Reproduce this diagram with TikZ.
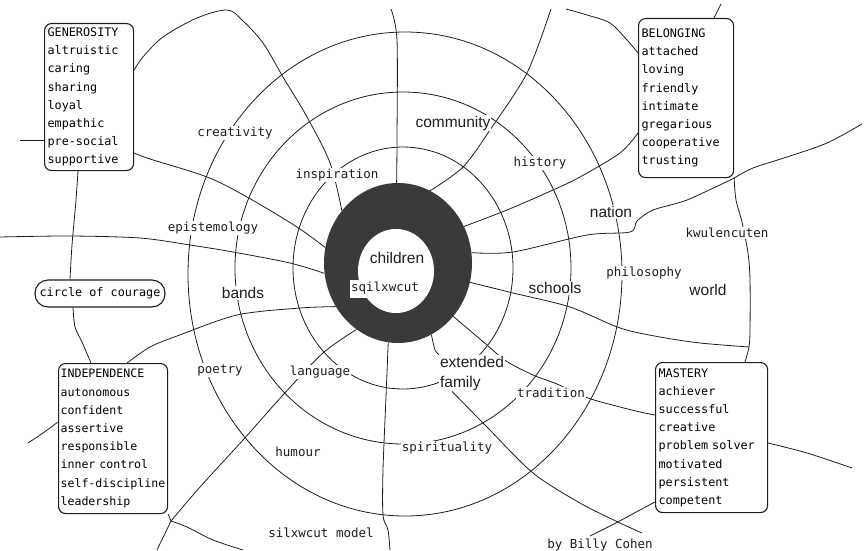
\documentclass[tikz,border=0pt]{standalone}
\usepackage{fontspec}
\setmainfont{Liberation Sans}
\newfontfamily\bitmapfont{DejaVu Sans Mono}
\usetikzlibrary{shapes.geometric}
\pgfdeclarelayer{bg}
\pgfsetlayers{bg,main}
\definecolor{ringc}{HTML}{3A3A3A}
\definecolor{inkc}{HTML}{1E1E1E}
\begin{document}
\begin{tikzpicture}[x=1pt,y=-1pt,
  con/.style={draw=inkc, line width=0.8pt},
  cbox/.style={draw=inkc, line width=1.1pt, rounded corners=7pt, anchor=north west,
    inner xsep=3pt, inner ysep=0pt, align=left,
    font=\bitmapfont\fontsize{11.8}{18.2}\selectfont},
  lab/.style={fill=white, inner sep=1pt, text=inkc, font=\bitmapfont\fontsize{12.5}{14}\selectfont},
  hlab/.style={fill=white, inner sep=1pt, text=inkc, font=\fontsize{15.5}{20}\selectfont}]
\useasboundingbox (0,0) rectangle (867,551);

% boxes
\node[cbox, text width=83pt, minimum height=147pt] (gen) at (44,23)
  {GENEROSITY\\altruistic\\caring\\sharing\\loyal\\empathic\\pre-social\\supportive};
\node[cbox, text width=89pt, minimum height=159pt] (bel) at (638,18)
  {BELONGING\\attached\\loving\\friendly\\intimate\\gregarious\\cooperative\\trusting};
\node[cbox, inner xsep=2pt, text width=105pt, minimum height=150pt,
  font=\bitmapfont\fontsize{11.6}{18.2}\selectfont] (ind) at (58,363)
  {INDEPENDENCE\\autonomous\\confident\\assertive\\responsible\\inner control\\self-discipline\\leadership};
\node[cbox, text width=106pt, minimum height=150pt] (mas) at (655,362)
  {MASTERY\\achiever\\successful\\creative\\problem solver\\motivated\\persistent\\competent};
\node[draw=inkc, line width=1.1pt, rounded corners=13pt, minimum width=130pt, minimum height=27pt,
  inner sep=0pt, font=\bitmapfont\fontsize{11.8}{14}\selectfont] (coc) at (100,293.5) {circle of courage};

% central ring
\node[ellipse, fill=ringc, minimum width=148pt, minimum height=160pt, inner sep=0pt] (ring) at (398,263) {};
\node[ellipse, fill=white, minimum width=76pt, minimum height=84pt, inner sep=0pt] (hole) at (396,271) {};
\node[hlab, fill=none] (child) at (397,258) {children};
\node[fill=white, text=inkc, font=\bitmapfont\fontsize{12.5}{14}\selectfont, minimum width=70pt,
  minimum height=18pt, inner sep=0pt] (sqil) at (385,288.5) {sqilxwcut};

% labels
\node[lab] (creat) at (235,133) {creativity};
\node[lab] (insp) at (337,175) {inspiration};
\node[lab] (epis) at (213,228) {epistemology};
\node[hlab] (comm) at (453,123) {community};
\node[lab] (hist) at (540,163) {history};
\node[hlab] (nat) at (611,212) {nation};
\node[lab] (kw) at (727,233) {kwulencuten};
\node[lab] (phil) at (644,273) {philosophy};
\node[hlab] (world) at (708,290) {world};
\node[hlab] (sch) at (555,288) {schools};
\node[hlab] (bands) at (243,293) {bands};
\node[lab] (poet) at (220,370) {poetry};
\node[lab] (lang) at (320,372) {language};
\node[hlab, align=left] (ext) at (472,373) {extended\\family};
\node[lab] (trad) at (551,393) {tradition};
\node[lab] (hum) at (298,452) {humour};
\node[lab] (spir) at (447,448) {spirituality};
\node[lab] (silx) at (321,533) {silxwcut model};
\node[lab] (by) at (600,545) {by Billy Cohen};

% free ends and junctions
\coordinate (e1) at (20,140);
\coordinate (e6) at (0,237);
\coordinate (e8) at (28,443);
\coordinate (j9) at (171,521);
\coordinate (e9a) at (243,550);
\coordinate (e9b) at (157,550);
\coordinate (e10) at (391,9);
\coordinate (e11) at (551,9);
\coordinate (e12) at (566,9);
\coordinate (e13) at (721,4);
\coordinate (e15) at (862,124);
\coordinate (j17) at (749,347);
\coordinate (e20) at (642,533);
\coordinate (e21) at (390,550);
\coordinate (e23) at (852,468);
\coordinate (e24) at (590,536);

\begin{pgfonlayer}{bg}
\draw[con] (403,268) ellipse [x radius=110pt, y radius=121pt];
\draw[con] (403,268) ellipse [x radius=168pt, y radius=176pt];
\draw[con] (405,274) ellipse [x radius=217pt, y radius=242pt];

\draw[con] (e1) -- (gen.west |- e1);
\draw[con] plot[smooth, tension=0.55] coordinates {(gen.east |- 0,70) (143,57) (163,37) (197,18) (227,10) (242,20) (263,43) (283,77) (307,117) (330,163) (ring.137)};
\draw[con] plot[smooth, tension=0.55] coordinates {(gen.east |- 0,153) (150,159) (207,177) (247,197) (297,227) (ring.168)};
\draw[con] plot[smooth] coordinates {(gen.south -| 78,0) (76,200) (72,245) (coc.north -| 70,0)};
\draw[con] plot[smooth] coordinates {(coc.south -| 73,0) (75,327) (82,342) (ind.north -| 91,0)};
\draw[con] plot[smooth] coordinates {(e6) (70,236) (140,238) (190,245) (233,252) (290,263) (ring.188)};
\draw[con] plot[smooth] coordinates {(ind.north -| 127,0) (150,347) (177,336) (237,315) (300,308) (ring.215)};
\draw[con] plot[smooth] coordinates {(ind.west |- 0,422) (43,433) (e8)};
\draw[con] (ind.south east) -- (j9);
\draw[con] plot[smooth] coordinates {(j9) (200,487) (243,440) (283,395) (323,353) (ring.238)};
\draw[con] plot[smooth] coordinates {(j9) (187,527) (213,540) (e9a)};
\draw[con] (j9) -- (e9b);
\draw[con] plot[smooth] coordinates {(ring.91) (397,140) (397,40) (e10)};
\draw[con] plot[smooth] coordinates {(ring.66) (463,167) (490,130) (527,73) (e11)};
\draw[con] plot[smooth] coordinates {(bel.west |- 0,53) (627,40) (610,23) (587,15) (e12)};
\draw[con] (bel.north -| 714,0) -- (e13);
\draw[con] plot[smooth] coordinates {(bel.west |- 0,133) (620,153) (580,177) (553,190) (507,210) (ring.29)};
\draw[con] plot[smooth] coordinates {(bel.south east) (753,168) (787,157) (827,143) (e15)};
\draw[con] plot[smooth] coordinates {(bel.south east) (687,200) (653,210) (637,221) (630,232) (587,235) (513,252) (ring.8)};
\draw[con] plot[smooth] coordinates {(bel.south east) (736,200) (742,222) (748,253) (750,280) (750,330) (j17) (mas.north -| 745,0)};
\draw[con] plot[smooth] coordinates {(ring.345) (513,293) (570,307) (620,328) (660,337) (700,343) (j17)};
\draw[con] plot[smooth] coordinates {(ring.316) (487,345) (506,361) (533,375) (557,384) (588,398) (620,407) (640,412) (mas.west |- 0,415)};
\draw[con] plot[smooth] coordinates {(ring.295) (435,350) (ext.north west)};
\draw[con] plot[smooth] coordinates {(ext.south -| 452,0) (487,427) (533,473) (580,503) (620,523) (e20)};
\draw[con] plot[smooth] coordinates {(ring.263) (386,397) (383,470) (383,515) (388,530) (e21)};
\draw[con] plot[smooth] coordinates {(mas.east |- 0,443) (807,453) (e23)};
\draw[con] plot[smooth] coordinates {(mas.west |- 0,502) (640,510) (612,525) (e24)};
\end{pgfonlayer}
\end{tikzpicture}
\end{document}
